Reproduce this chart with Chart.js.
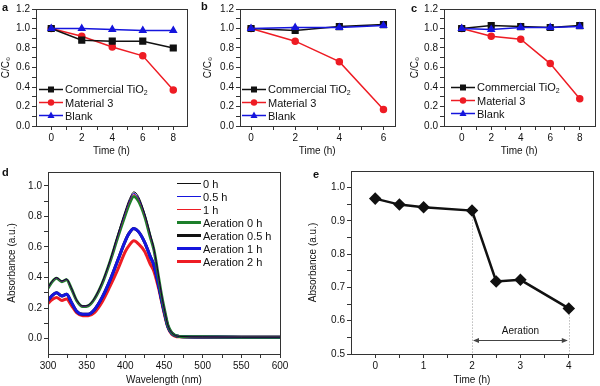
<!DOCTYPE html>
<html>
<head>
<meta charset="utf-8">
<script src="https://cdn.jsdelivr.net/npm/chart.js@4.4.1/dist/chart.umd.min.js"></script>
<style>
  body { margin: 0; background: #fff; }
  #wrap { position: relative; width: 600px; height: 386px; background: #fff; overflow: hidden;
          font-family: "Liberation Sans", Arial, sans-serif; color: #111; }
  .panel { position: absolute; }
  .lbl { position: absolute; font-weight: bold; font-size: 11px; }
  .legend { position: absolute; font-size: 11px; }
  .row { display: flex; align-items: center; height: 13px; white-space: nowrap; }
  .row svg { display: block; margin-right: 2px; }
  sub { font-size: 7px; vertical-align: -2px; }
</style>
</head>
<body>
<div id="wrap">
  <div class="panel" style="left:0;top:0"><canvas id="ca" width="196" height="161"></canvas></div>
  <div class="panel" style="left:200px;top:0"><canvas id="cb" width="200" height="161"></canvas></div>
  <div class="panel" style="left:400px;top:0"><canvas id="cc" width="200" height="161"></canvas></div>
  <div class="panel" style="left:0;top:158px"><canvas id="cd" width="300" height="228"></canvas></div>
  <div class="panel" style="left:300px;top:158px"><canvas id="ce" width="300" height="228"></canvas></div>

  <div class="lbl" style="left:2px;top:1px">a</div>
  <div class="lbl" style="left:201px;top:0px">b</div>
  <div class="lbl" style="left:411px;top:2px">c</div>
  <div class="lbl" style="left:2px;top:166px">d</div>
  <div class="lbl" style="left:313px;top:168px">e</div>

  <div class="legend" id="legA" style="left:39px;top:83px"></div>
  <div class="legend" id="legB" style="left:242px;top:83px"></div>
  <div class="legend" id="legC" style="left:451px;top:81px"></div>
  <div class="legend" id="legD" style="left:177px;top:177px"></div>
</div>

<script>
// panels a-c: C/C0 vs time
const timeA = [0, 2, 4, 6, 8];
const commercialA = [1.0, 0.88, 0.87, 0.87, 0.80];
const materialA = [1.0, 0.92, 0.81, 0.72, 0.37];
const blankA = [1.0, 1.0, 0.99, 0.98, 0.98];

const timeB = [0, 2, 4, 6];
const commercialB = [1.0, 0.98, 1.02, 1.04];
const materialB = [1.0, 0.87, 0.66, 0.17];
const blankB = [1.0, 1.01, 1.01, 1.03];

const timeC = [0, 2, 4, 6, 8];
const commercialC = [1.0, 1.03, 1.02, 1.01, 1.03];
const materialC = [1.0, 0.92, 0.89, 0.64, 0.28];
const blankC = [1.0, 0.99, 1.01, 1.01, 1.02];

const seriesNames = ['Commercial TiO<sub>2</sub>', 'Material 3', 'Blank'];

// panel d: absorption spectra
const wavelength = [300, 305, 311, 318, 324, 330, 337, 345, 352, 360, 370, 380, 390, 400, 405, 411, 417, 425, 432, 437, 443, 447, 451, 455, 460, 470, 500, 550, 600];
const abs0h     = [0.335, 0.375, 0.40, 0.378, 0.39, 0.335, 0.255, 0.215, 0.22, 0.265, 0.37, 0.51, 0.68, 0.84, 0.91, 0.96, 0.93, 0.82, 0.69, 0.59, 0.41, 0.285, 0.18, 0.09, 0.04, 0.015, 0.012, 0.01, 0.01];
const abs05h    = [0.333, 0.373, 0.398, 0.376, 0.388, 0.333, 0.253, 0.213, 0.218, 0.263, 0.366, 0.505, 0.672, 0.83, 0.90, 0.95, 0.92, 0.815, 0.685, 0.585, 0.405, 0.283, 0.18, 0.09, 0.04, 0.015, 0.012, 0.01, 0.01];
const abs1h     = [0.332, 0.372, 0.397, 0.375, 0.387, 0.332, 0.252, 0.212, 0.217, 0.262, 0.364, 0.503, 0.668, 0.825, 0.895, 0.945, 0.915, 0.81, 0.68, 0.583, 0.403, 0.282, 0.18, 0.09, 0.04, 0.015, 0.012, 0.01, 0.01];
const absAer0   = [0.33, 0.37, 0.395, 0.373, 0.385, 0.33, 0.25, 0.21, 0.215, 0.26, 0.36, 0.50, 0.66, 0.81, 0.88, 0.93, 0.90, 0.80, 0.67, 0.58, 0.40, 0.28, 0.18, 0.09, 0.04, 0.015, 0.012, 0.01, 0.01];
const absAer05  = [0.25, 0.28, 0.30, 0.28, 0.29, 0.24, 0.18, 0.16, 0.16, 0.19, 0.27, 0.38, 0.51, 0.64, 0.69, 0.72, 0.70, 0.63, 0.54, 0.48, 0.35, 0.25, 0.16, 0.08, 0.035, 0.014, 0.011, 0.01, 0.01];
const absAer1   = [0.25, 0.28, 0.30, 0.28, 0.29, 0.24, 0.18, 0.16, 0.16, 0.19, 0.27, 0.38, 0.51, 0.64, 0.69, 0.72, 0.70, 0.63, 0.54, 0.48, 0.35, 0.25, 0.16, 0.08, 0.035, 0.014, 0.011, 0.01, 0.01];
const absAer2   = [0.23, 0.255, 0.27, 0.25, 0.26, 0.22, 0.17, 0.15, 0.15, 0.17, 0.24, 0.34, 0.45, 0.57, 0.61, 0.64, 0.62, 0.57, 0.49, 0.44, 0.33, 0.24, 0.15, 0.075, 0.03, 0.012, 0.01, 0.009, 0.009];
const spectraNames = ['0 h', '0.5 h', '1 h', 'Aeration 0 h', 'Aeration 0.5 h', 'Aeration 1 h', 'Aeration 2 h'];

// panel e: absorbance at peak vs time
const timeE = [0, 0.5, 1, 2, 2.5, 3, 4];
const absE = [0.967, 0.949, 0.941, 0.931, 0.718, 0.723, 0.637];
const aerationStart = 2, aerationEnd = 4;

// tick lists
const ticksTime8 = [0, 1, 2, 3, 4, 5, 6, 7, 8];
const ticksTime6 = [0, 1, 2, 3, 4, 5, 6];
const ticksCC = [0, 0.1, 0.2, 0.3, 0.4, 0.5, 0.6, 0.7, 0.8, 0.9, 1.0, 1.1, 1.2];
const ticksWl = [300, 325, 350, 375, 400, 425, 450, 475, 500, 525, 550, 575, 600];
const ticksAbsD = [0, 0.1, 0.2, 0.3, 0.4, 0.5, 0.6, 0.7, 0.8, 0.9, 1.0];
const ticksTimeE = [0, 0.5, 1, 1.5, 2, 2.5, 3, 3.5, 4];
const ticksAbsE = [0.5, 0.55, 0.6, 0.65, 0.7, 0.75, 0.8, 0.85, 0.9, 0.95, 1.0];

const BLACK = '#111', RED = '#ee1c24', BLUE = '#1515dd', GREEN = '#1c7f2a';

Chart.defaults.font.family = '"Liberation Sans", Arial, sans-serif';
Chart.defaults.font.size = 10;
Chart.defaults.color = '#111';
Chart.defaults.animation = false;

const framePlugin = {
  id: 'frame',
  afterDatasetsDraw(chart) {
    const { ctx, chartArea: a } = chart;
    ctx.save();
    ctx.strokeStyle = '#333';
    ctx.lineWidth = 1;
    ctx.strokeRect(Math.round(a.left) + 0.5, Math.round(a.top) + 0.5, Math.round(a.right - a.left), Math.round(a.bottom - a.top));
    ctx.restore();
  }
};

function axis(min, max, ticks, isMajor, fmt, title, size, titlePad) {
  return {
    type: 'linear', min, max,
    afterBuildTicks: s => { s.ticks = ticks.map(v => ({ value: v })); },
    afterFit: s => { if (s.isHorizontal()) s.height = size; else s.width = size; },
    ticks: {
      autoSkip: false, maxRotation: 0, minRotation: 0, padding: 2,
      callback: v => isMajor(v) ? fmt(v) : ''
    },
    grid: { drawOnChartArea: false, drawTicks: true, tickLength: 4, color: '#333' },
    border: { display: true, color: '#333' },
    title: { display: true, text: title, padding: titlePad, font: { size: 10 } }
  };
}

const near = (v, step) => Math.abs(v / step - Math.round(v / step)) < 1e-6;

function decayChart(id, time, com, mat, blank, xMin, xMax, xTicks, yWidth, yTitlePad, padRight) {
  const pts = arr => time.map((t, i) => ({ x: t, y: arr[i] }));
  new Chart(document.getElementById(id), {
    type: 'line',
    data: {
      datasets: [
        { data: pts(blank), borderColor: BLUE, backgroundColor: BLUE, borderWidth: 1.5, pointStyle: 'triangle', pointRadius: 3.5 },
        { data: pts(com), borderColor: BLACK, backgroundColor: BLACK, borderWidth: 1.5, pointStyle: 'rect', pointRadius: 4 },
        { data: pts(mat), borderColor: RED, backgroundColor: RED, borderWidth: 1.5, pointStyle: 'circle', pointRadius: 3 }
      ]
    },
    options: {
      responsive: false,
      layout: { padding: { top: 9, right: padRight, left: 0, bottom: 0 } },
      plugins: { legend: { display: false }, tooltip: { enabled: false } },
      scales: {
        x: axis(xMin, xMax, xTicks, v => near(v, 2), v => String(v), 'Time (h)', 35, { top: 0, bottom: 4 }),
        y: axis(0, 1.2, ticksCC, v => near(v, 0.2), v => v.toFixed(1), 'C/C\u2080', yWidth, { top: yTitlePad, bottom: 0 })
      }
    },
    plugins: [framePlugin]
  });
}

decayChart('ca', timeA, commercialA, materialA, blankA, -1, 8.9, ticksTime8, 36, 0, 9);
decayChart('cb', timeB, commercialB, materialB, blankB, -0.5, 6.5, ticksTime6, 40, 2, 2);
decayChart('cc', timeC, commercialC, materialC, blankC, -1.2, 9, ticksTime8, 44, 9, 1);

// panel d
const specColors = [BLACK, BLUE, RED, GREEN, BLACK, BLUE, RED];
const specWidths = [1, 1, 1, 3, 3, 3, 3];
const specData = [abs0h, abs05h, abs1h, absAer0, absAer05, absAer1, absAer2];
const specOrder = [0, 0, 0, 1, 3, 2, 4];
new Chart(document.getElementById('cd'), {
  type: 'line',
  data: {
    datasets: specData.map((arr, k) => ({
      data: wavelength.map((w, i) => ({ x: w, y: arr[i] })),
      borderColor: specColors[k], borderWidth: specWidths[k], pointRadius: 0,
      cubicInterpolationMode: 'monotone', order: specOrder[k]
    }))
  },
  options: {
    responsive: false,
    layout: { padding: { top: 14, right: 20, left: 0, bottom: 0 } },
    plugins: { legend: { display: false }, tooltip: { enabled: false } },
    scales: {
      x: axis(300, 600, ticksWl, v => near(v, 50), v => String(v), 'Wavelength (nm)', 32, { top: 0, bottom: 0 }),
      y: axis(-0.1, 1.09, ticksAbsD, v => near(v, 0.2), v => v.toFixed(1), 'Absorbance (a.u.)', 48, { top: 6, bottom: 0 })
    }
  },
  plugins: [framePlugin]
});

// panel e
const aerationPlugin = {
  id: 'aeration',
  beforeDatasetsDraw(chart) {
    const { ctx, scales: { x, y } } = chart;
    const xs = x.getPixelForValue(aerationStart), xe = x.getPixelForValue(aerationEnd);
    const ys = y.getPixelForValue(absE[timeE.indexOf(aerationStart)]);
    const ye = y.getPixelForValue(absE[timeE.indexOf(aerationEnd)]);
    const yb = y.getPixelForValue(0.5);
    const ya = y.getPixelForValue(0.542);
    ctx.save();
    ctx.strokeStyle = '#999';
    ctx.lineWidth = 1;
    ctx.setLineDash([1, 2]);
    ctx.beginPath();
    ctx.moveTo(Math.round(xs) + 0.5, ys); ctx.lineTo(Math.round(xs) + 0.5, yb);
    ctx.moveTo(Math.round(xe) + 0.5, ye); ctx.lineTo(Math.round(xe) + 0.5, yb);
    ctx.stroke();
    ctx.setLineDash([]);
    ctx.strokeStyle = '#444';
    ctx.fillStyle = '#444';
    ctx.beginPath();
    ctx.moveTo(xs + 2, Math.round(ya) + 0.5); ctx.lineTo(xe - 2, Math.round(ya) + 0.5);
    ctx.stroke();
    ctx.beginPath();
    ctx.moveTo(xs + 1, ya + 0.5); ctx.lineTo(xs + 7, ya - 2); ctx.lineTo(xs + 7, ya + 3); ctx.closePath();
    ctx.moveTo(xe - 1, ya + 0.5); ctx.lineTo(xe - 7, ya - 2); ctx.lineTo(xe - 7, ya + 3); ctx.closePath();
    ctx.fill();
    ctx.fillStyle = '#111';
    ctx.font = '10px "Liberation Sans", Arial, sans-serif';
    ctx.textAlign = 'center';
    ctx.textBaseline = 'middle';
    ctx.fillText('Aeration', x.getPixelForValue((aerationStart + aerationEnd) / 2), y.getPixelForValue(0.567));
    ctx.restore();
  }
};

new Chart(document.getElementById('ce'), {
  type: 'line',
  data: {
    datasets: [{
      data: timeE.map((t, i) => ({ x: t, y: absE[i] })),
      borderColor: BLACK, backgroundColor: BLACK, borderWidth: 2.5,
      pointStyle: 'rectRot', pointRadius: 4.5
    }]
  },
  options: {
    responsive: false,
    layout: { padding: { top: 13, right: 2, left: 0, bottom: 0 } },
    plugins: { legend: { display: false }, tooltip: { enabled: false } },
    scales: {
      x: axis(-0.5, 4.5, ticksTimeE, v => near(v, 1), v => String(v), 'Time (h)', 32, { top: 0, bottom: 0 }),
      y: axis(0.5, 1.05, ticksAbsE, v => near(v, 0.1), v => v.toFixed(1), 'Absorbance (a.u.)', 51, { top: 7, bottom: 0 })
    }
  },
  plugins: [framePlugin, aerationPlugin]
});

// legends
const markerSvg = {
  rect: c => `<rect x="9" y="3.5" width="6" height="6" fill="${c}"/>`,
  circle: c => `<circle cx="12" cy="6.5" r="3.2" fill="${c}"/>`,
  triangle: c => `<polygon points="12,2.5 15.5,9 8.5,9" fill="${c}"/>`
};
function symbolRow(name, color, width, marker) {
  return `<div class="row"><svg width="24" height="13"><line x1="0" y1="6.5" x2="24" y2="6.5" stroke="${color}" stroke-width="${width}"/>` +
    (marker ? markerSvg[marker](color) : '') + `</svg><span>${name}</span></div>`;
}
const decayColors = [BLACK, RED, BLUE];
const decayMarkers = ['rect', 'circle', 'triangle'];
['legA', 'legB', 'legC'].forEach(id => {
  document.getElementById(id).innerHTML = seriesNames.map((n, k) => symbolRow(n, decayColors[k], 1.5, decayMarkers[k])).join('');
});
document.getElementById('legD').innerHTML = spectraNames.map((n, k) => symbolRow(n, specColors[k], specWidths[k], null)).join('');
</script>
</body>
</html>
